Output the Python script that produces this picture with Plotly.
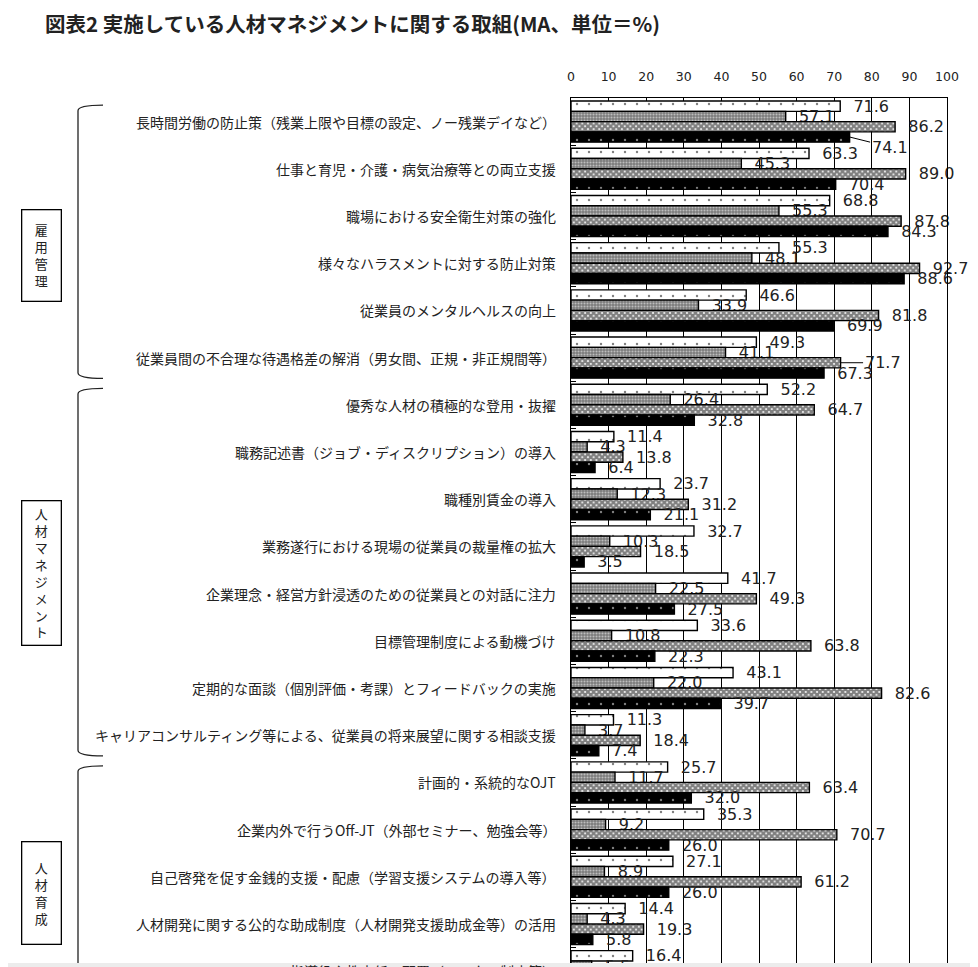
import plotly.graph_objects as go

# ---------------- data ----------------
categories = [
    "長時間労働の防止策（残業上限や目標の設定、ノー残業デイなど）",
    "仕事と育児・介護・病気治療等との両立支援",
    "職場における安全衛生対策の強化",
    "様々なハラスメントに対する防止対策",
    "従業員のメンタルヘルスの向上",
    "従業員間の不合理な待遇格差の解消（男女間、正規・非正規間等）",
    "優秀な人材の積極的な登用・抜擢",
    "職務記述書（ジョブ・ディスクリプション）の導入",
    "職種別賃金の導入",
    "業務遂行における現場の従業員の裁量権の拡大",
    "企業理念・経営方針浸透のための従業員との対話に注力",
    "目標管理制度による動機づけ",
    "定期的な面談（個別評価・考課）とフィードバックの実施",
    "キャリアコンサルティング等による、従業員の将来展望に関する相談支援",
    "計画的・系統的なOJT",
    "企業内外で行うOff-JT（外部セミナー、勉強会等）",
    "自己啓発を促す金銭的支援・配慮（学習支援システムの導入等）",
    "人材開発に関する公的な助成制度（人材開発支援助成金等）の活用",
    "指導役や教育係の配置（メンター制度等）",
]
series1 = [71.6, 63.3, 68.8, 55.3, 46.6, 49.3, 52.2, 11.4, 23.7, 32.7, 41.7, 33.6, 43.1, 11.3, 25.7, 35.3, 27.1, 14.4, 16.4]
series2 = [57.1, 45.3, 55.3, 48.1, 33.9, 41.1, 26.4, 4.3, 12.3, 10.3, 22.5, 10.8, 22.0, 3.7, 11.7, 9.2, 8.9, 4.3, 5.5]
series3 = [86.2, 89.0, 87.8, 92.7, 81.8, 71.7, 64.7, 13.8, 31.2, 18.5, 49.3, 63.8, 82.6, 18.4, 63.4, 70.7, 61.2, 19.3, None]
series4 = [74.1, 70.4, 84.3, 88.6, 69.9, 67.3, 32.8, 6.4, 21.1, 3.5, 27.5, 22.3, 39.7, 7.4, 32.0, 26.0, 26.0, 5.8, None]
series_names = ["系列1", "系列2", "系列3", "系列4"]
x_ticks = [0, 10, 20, 30, 40, 50, 60, 70, 80, 90, 100]

groups = [
    {"name": "雇用管理", "first": 0, "last": 5},
    {"name": "人材マネジメント", "first": 6, "last": 13},
    {"name": "人材育成", "first": 14, "last": 20},
]
title = "図表2 実施している人材マネジメントに関する取組(MA、単位＝%)"

# labels drawn with leader lines: (series index, category index, dx px, dy px)
leader_labels = [(3, 0, 40, 10), (2, 5, 42, 0)]

# ---------------- layout constants ----------------
OFF = 8                              # default page body margin
PAGE_W, PAGE_H = 978, 967
PL, PR, PT = 571, 947, 98            # plot box in page pixels
W, H = PAGE_W - OFF, PAGE_H - OFF
ML, MT, MB = PL - OFF, PT - OFF, 0
MR = W - (PR - OFF)
PERIOD = 47.2                        # px per category
plot_h = H - MT - MB
y_top = -0.5
y_bot = y_top + plot_h / PERIOD
BARGAP = 0.13
NS = 4
bar_w = (1 - BARGAP) / NS

JP = "Noto Sans CJK JP"
NUM = "DejaVu Sans"
TXT = "#222222"

styles = [
    dict(color="white", pattern=dict(shape=".", fgcolor="black", bgcolor="white", size=12, solidity=0.03)),
    dict(color="#8a8a8a", pattern=dict(shape=".", fgcolor="white", bgcolor="#7a7a7a", size=3, solidity=0.4)),
    dict(color="white", pattern=dict(shape="x", fgcolor="black", bgcolor="white", size=4, solidity=0.8)),
    dict(color="black", pattern=dict(shape=".", fgcolor="white", bgcolor="black", size=12, solidity=0.03)),
]

all_series = [series1, series2, series3, series4]
ypos = list(range(len(categories)))
skip = {(s, c) for s, c, _, _ in leader_labels}

fig = go.Figure()
for si, vals in enumerate(all_series):
    texts = []
    for ci, v in enumerate(vals):
        if v is None or (si, ci) in skip:
            texts.append("")
        else:
            texts.append("\u00a0\u00a0" + f"{v:.1f}")
    fig.add_trace(go.Bar(
        y=ypos, x=vals, orientation="h", name=series_names[si],
        marker=dict(color=styles[si]["color"], pattern=styles[si]["pattern"],
                    line=dict(color="black", width=1.4)),
        text=texts, textposition="outside", constraintext="none", cliponaxis=False,
        textfont=dict(family=NUM, size=16, color=TXT),
        hoverinfo="skip",
    ))

annotations = []
shapes = []

# title
annotations.append(dict(text="<b>" + title + "</b>", xref="paper", yref="paper", x=0, y=1,
                        xshift=43 - PL, yshift=PT - 23, xanchor="left", yanchor="middle",
                        showarrow=False, font=dict(family=JP, size=20.5, color=TXT)))

# category labels
for ci, cat in enumerate(categories):
    yy = min(ci, y_bot - 0.01)
    annotations.append(dict(text=cat, xref="paper", yref="y", x=0, y=yy,
                            yshift=-(ci - yy) * PERIOD, xshift=558 - PL,
                            xanchor="right", yanchor="middle", showarrow=False,
                            font=dict(family=JP, size=14, color=TXT)))

# leader-line labels
for si, ci, dx, dy in leader_labels:
    v = all_series[si][ci]
    yc = ci - (1 - BARGAP) / 2 + bar_w * (si + 0.5)
    annotations.append(dict(text=f"{v:.1f}", xref="x", yref="y", x=v, y=yc,
                            ax=dx, ay=dy, showarrow=True, arrowhead=0, arrowwidth=1,
                            arrowcolor="black", standoff=0,
                            font=dict(family=NUM, size=16, color=TXT)))

# group boxes and brackets
box_centers = [2.83, 9.56, 16.35]
box_heights = [88, 141, 99]
for g, yc, bh in zip(groups, box_centers, box_heights):
    annotations.append(dict(text="<br>".join(list(g["name"])), xref="paper", yref="y",
                            x=0, y=yc, xshift=41 - PL, xanchor="center", yanchor="middle",
                            showarrow=False, width=36, height=bh, borderpad=1,
                            bordercolor="black", borderwidth=1.3, bgcolor="white",
                            font=dict(family=JP, size=13, color=TXT)))
    yt = g["first"] - 0.5 + 0.15
    yb = g["last"] + 0.5 - 0.06
    xr, xl = 103 - PL, 78 - PL
    d = 0.12
    path = (f"M {xr},{yt} Q {xl},{yt} {xl},{yt + d} L {xl},{yb - d} "
            f"Q {xl},{yb} {xr},{yb}")
    shapes.append(dict(type="path", xref="paper", yref="y", xsizemode="pixel", xanchor=0,
                       path=path, line=dict(color="#222", width=1.3), layer="above"))

# bottom strip (browser scrollbar area in the reference)
shapes.append(dict(type="rect", xref="paper", yref="paper", x0=-2, x1=2,
                   ysizemode="pixel", yanchor=0, y0=-1, y1=4,
                   fillcolor="#ececec", line=dict(width=0), layer="above"))

fig.update_layout(
    width=W, height=H,
    margin=dict(l=ML, r=MR, t=MT, b=MB, pad=0),
    paper_bgcolor="white", plot_bgcolor="white",
    barmode="group", bargap=BARGAP, bargroupgap=0,
    showlegend=False,
    annotations=annotations, shapes=shapes,
    xaxis=dict(side="top", range=[0, 100], tickvals=x_ticks, ticks="",
               ticklabelstandoff=11,
               tickfont=dict(family=NUM, size=12.5, color=TXT),
               showgrid=True, gridcolor="black", gridwidth=1.3,
               showline=True, linecolor="black", linewidth=1.3, mirror=True,
               zeroline=False, fixedrange=True),
    yaxis=dict(range=[y_bot, y_top], showticklabels=False,
               tickvals=[i + 0.5 for i in ypos], ticks="inside", ticklen=5,
               tickwidth=1, tickcolor="black",
               showgrid=False, zeroline=False,
               showline=True, linecolor="black", linewidth=1.3, mirror=True,
               fixedrange=True),
)

fig.write_html("out.html")
